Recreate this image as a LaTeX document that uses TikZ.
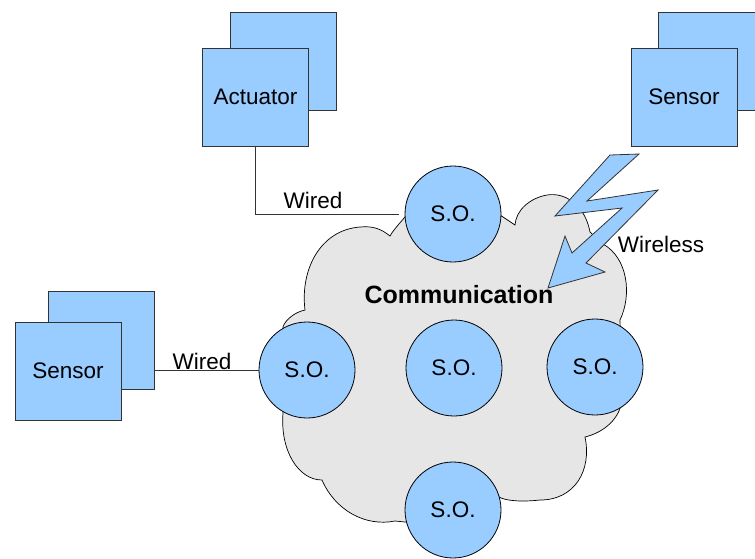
\documentclass[tikz,border=0pt]{standalone}
\usepackage{fontspec}
\setmainfont{Liberation Sans}
\usetikzlibrary{positioning,calc}

\definecolor{soblue}{HTML}{99CCFF}
\definecolor{cloudgray}{HTML}{E6E6E6}
\definecolor{edgegray}{HTML}{333333}

\tikzset{
  unitbox/.style={draw=edgegray,fill=soblue,line width=0.8pt,minimum width=106pt,minimum height=98pt,inner sep=0pt,font=\fontsize{22.5}{26}\selectfont},
  soball/.style={circle,draw=black,fill=soblue,line width=0.8pt,minimum size=96pt,inner sep=0pt,font=\fontsize{22.5}{26}\selectfont},
  wire/.style={draw=black!80,line width=0.8pt},
  lbl/.style={font=\fontsize{22.5}{26}\selectfont,inner sep=1pt},
  cloudbody/.style={draw=black,fill=cloudgray,line width=0.7pt},
  bolt/.style={draw=edgegray,fill=soblue,line width=0.8pt,line join=miter}
}

\begin{document}
\begin{tikzpicture}[x=1pt,y=-1pt]
    \useasboundingbox (0,0) rectangle (755,558);
    % communication cloud
    \path[cloudbody] (283,413) .. controls (280,450) and (298,480) .. (322,480)
        .. controls (335,510) and (365,527) .. (395,521) -- (455,527) -- (499,497)
        .. controls (506,501) and (522,502) .. (540,500)
        .. controls (575,500) and (592,470) .. (585,437)
        .. controls (605,432) and (620,418) .. (622,400) -- (620,320)
        .. controls (632,295) and (628,258) .. (603,244)
        -- (590,232) .. controls (585,205) and (565,192) .. (547,195)
        .. controls (530,198) and (516,210) .. (515,225) -- (500,215) -- (405,217)
        .. controls (398,225) and (392,232) .. (390,236)
        .. controls (380,228) and (372,226) .. (360,227)
        .. controls (320,230) and (300,270) .. (305,310)
        .. controls (295,312) and (285,320) .. (283,327) -- cycle;
    \node[font=\fontsize{25}{29}\selectfont\bfseries] (comm) at (459,295) {Communication};
    % self-organizing units
    \node[soball] (soT) at (453,214) {S.O.};
    \node[soball] (soL) at (307,370) {S.O.};
    \node[soball] (soC) at (454,368) {S.O.};
    \node[soball] (soR) at (595,367) {S.O.};
    \node[soball] (soB) at (453,510) {S.O.};
    % actuator
    \node[unitbox] (actB) at (283,61) {};
    \node[unitbox] (act) at (255.5,97) {Actuator};
    % sensors
    \node[unitbox] (senRB) at (711,61) {};
    \node[unitbox] (senR) at (684,97) {Sensor};
    \node[unitbox] (senLB) at (101,340) {};
    \node[unitbox] (senL) at (68,371) {Sensor};
    % wires
    \draw[wire] (act.south) |- ($(soT.west)+(-6,0)$);
    \node[lbl] (wiredT) at (313,200) {Wired};
    \draw[wire] (soL.west) -- (soL.west -| senLB.east);
    \node[lbl] (wiredL) at (202,361) {Wired};
    % wireless link
    \path[bolt] (610,155) -- (639,154) -- (587,201) -- (658,190) -- (586,263) -- (605,272)
        -- (548,288) -- (565,236) -- (572,253) -- (622,208) -- (555,216) -- cycle;
    \node[lbl] (wless) at (661,244) {Wireless};
\end{tikzpicture}
\end{document}
